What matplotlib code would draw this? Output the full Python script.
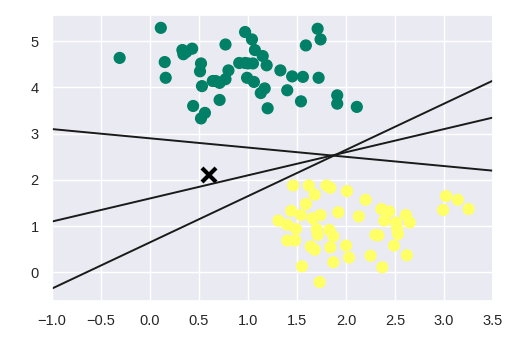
import numpy as np
import matplotlib
matplotlib.use("Agg")
import matplotlib.pyplot as plt
import seaborn as sns

sns.set_theme()
plt.rcParams['font.family'] = ['Liberation Sans', 'DejaVu Sans']

# class 0 (upper cluster)
x0 = [-0.31, 0.11, 0.15, 0.16, 0.33, 0.34, 0.37, 0.43, 0.52, 0.51, 0.53, 0.44,
      0.56, 0.52, 0.64, 0.67, 0.71, 0.77, 0.80, 0.77, 0.71, 0.91, 0.97, 1.00,
      1.05, 0.97, 1.04, 1.07, 0.99, 1.06, 1.15, 1.19, 1.13, 1.17, 1.20, 1.33,
      1.45, 1.40, 1.54, 1.56, 1.59, 1.71, 1.74, 1.72, 1.91, 1.91, 2.11]
y0 = [4.64, 5.29, 4.55, 4.21, 4.81, 4.72, 4.77, 4.84, 4.52, 4.35, 4.03, 3.60,
      3.45, 3.33, 4.14, 4.14, 4.10, 4.18, 4.37, 4.93, 3.73, 4.53, 4.53, 4.52,
      4.52, 5.20, 5.04, 4.81, 4.21, 4.12, 4.68, 4.48, 3.88, 3.98, 3.55, 4.37,
      4.24, 3.94, 3.70, 4.23, 4.91, 5.27, 5.04, 4.21, 3.83, 3.65, 3.58]

# class 1 (lower cluster)
x1 = [1.31, 1.40, 1.40, 1.48, 1.49, 1.44, 1.46, 1.54, 1.55, 1.59, 1.62, 1.68,
      1.66, 1.74, 1.70, 1.71, 1.64, 1.68, 1.73, 1.80, 1.84, 1.83, 1.87, 1.84,
      1.87, 1.92, 2.01, 2.00, 2.03, 2.13, 2.20, 2.25, 2.30, 2.33, 2.36, 2.44,
      2.39, 2.37, 2.49, 2.51, 2.52, 2.53, 2.61, 2.65, 2.62, 3.02, 2.99, 3.14,
      3.25]
y1 = [1.12, 1.03, 0.69, 0.69, 0.94, 1.33, 1.88, 1.24, 0.13, 1.48, 1.88, 1.68,
      1.17, 1.24, 0.94, 0.81, 0.56, 0.49, -0.21, 1.88, 1.83, 0.92, 0.78, 0.54,
      0.22, 1.30, 1.76, 0.58, 0.32, 1.21, 1.57, 0.36, 0.81, 0.80, 1.37, 1.32,
      1.12, 0.11, 0.58, 1.08, 0.96, 0.83, 1.24, 1.08, 0.37, 1.65, 1.35, 1.57,
      1.37]

# candidate separating lines: (slope, intercept)
lines = [(1, 0.65), (0.5, 1.6), (-0.2, 2.9)]
new_point = (0.6, 2.1)

X = np.array(x0 + x1)
Y = np.array(y0 + y1)
labels = np.array([0] * len(x0) + [1] * len(x1))

fig = plt.figure(figsize=(5.12, 3.39), dpi=100)
ax = fig.add_axes([0.1016, 0.112, 0.8614, 0.844])

ax.scatter(X, Y, c=labels, s=60, cmap='summer')
ax.plot([new_point[0]], [new_point[1]], 'x', color='black', markeredgewidth=3, markersize=10)

xfit = np.linspace(-1, 3.5)
for m, b in lines:
    ax.plot(xfit, m * xfit + b, '-k', lw=1.4)

ax.set_xlim(-1, 3.5)
ax.set_ylim(-0.62, 5.57)
ax.tick_params(labelsize=10.5)

fig.savefig("out.png", dpi=100)
